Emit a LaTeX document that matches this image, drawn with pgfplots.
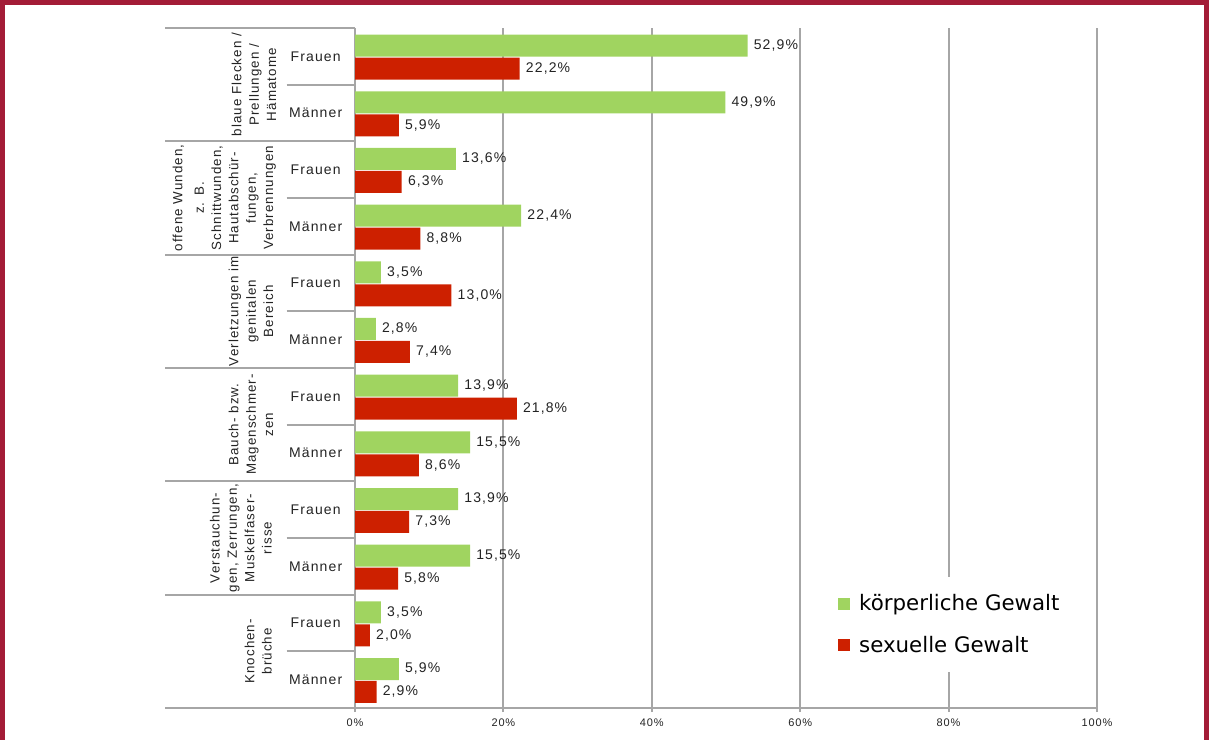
\documentclass[border=0pt]{standalone}
\usepackage{pgfplots}
\pgfplotsset{compat=1.18}
\usepackage{fontspec}
\setmainfont[LetterSpace=8]{Liberation Sans}
\newfontfamily\dejavu{DejaVu Sans}
\definecolor{gruen}{RGB}{160,212,96}
\definecolor{rot}{RGB}{205,32,0}
\definecolor{rahmen}{RGB}{163,28,55}
\definecolor{gitter}{RGB}{166,166,166}
\definecolor{schrift}{RGB}{35,35,35}

\begin{document}
\begin{tikzpicture}
% picture 1209 x 740 px, 1 px = 0.75 pt
\path[use as bounding box] (0,0) rectangle (906.75pt,555pt);
\fill[rahmen] (0,551.25pt) rectangle (906.75pt,555pt);
\fill[rahmen] (0,0) rectangle (3.75pt,555pt);
\fill[rahmen] (903pt,0) rectangle (906.75pt,555pt);

\begin{axis}[
    at={(266.25pt,24pt)}, anchor=south west,
    scale only axis, width=556.5pt, height=510pt,
    xmin=0, xmax=100, ymin=0, ymax=12,
    clip=false,
    axis x line*=bottom, axis y line*=left,
    axis line style={gitter, line width=1.5pt, -},
    xtick={0,20,40,60,80,100}, ytick=\empty,
    xmajorgrids, grid style={gitter, line width=1.5pt},
    tick style={gitter, line width=1.5pt},
    tick align=outside, major tick length=3pt,
    xticklabel={\pgfmathprintnumber[assume math mode=true]{\tick}\%},
    xticklabel style={font=\fontsize{8.25}{10}\selectfont, text=schrift, yshift=-1.5pt},
    xbar, bar width=16.5pt,
    point meta=x,
    nodes near coords={\pgfmathprintnumber[fixed,fixed zerofill,precision=1,use comma,assume math mode=true]{\pgfplotspointmeta}\%},
    nodes near coords style={anchor=west, inner sep=0pt, xshift=4.5pt, font=\fontsize{10.5}{12}\selectfont, text=schrift},
    legend style={at={(axis cs:63.6,2.31)}, anchor=north west, draw=none, fill=white,
        font=\dejavu\fontsize{16}{19}\selectfont, text=black,
        inner xsep=8pt, inner ysep=11pt, row sep=13.5pt, cells={anchor=west},
        /tikz/every odd column/.append style={column sep=5pt}},
    legend image code/.code={\fill[#1, draw=none] (0pt,-4.5pt) rectangle (9pt,4.5pt);},
]
\addplot[fill=gruen, draw=none, bar shift=8pt] coordinates {
    (52.9,11.5) (49.9,10.5) (13.6,9.5) (22.4,8.5) (3.5,7.5) (2.8,6.5)
    (13.9,5.5) (15.5,4.5) (13.9,3.5) (15.5,2.5) (3.5,1.5) (5.9,0.5)};
\addlegendentry{körperliche Gewalt}
\addplot[fill=rot, draw=none, bar shift=-9.2pt] coordinates {
    (22.2,11.5) (5.9,10.5) (6.3,9.5) (8.8,8.5) (13.0,7.5) (7.4,6.5)
    (21.8,5.5) (8.6,4.5) (7.3,3.5) (5.8,2.5) (2.0,1.5) (2.9,0.5)};
\addlegendentry{sexuelle Gewalt}

% separator lines left of the axis
\pgfplotsinvokeforeach{0,2,4,6,8,10,12}{
    \draw[gitter, line width=1.5pt] (axis cs:-25.6,#1) -- (axis cs:0,#1);}
\pgfplotsinvokeforeach{1,3,5,7,9,11}{
    \draw[gitter, line width=1.5pt] (axis cs:-9.2,#1) -- (axis cs:0,#1);}

% Frauen / Männer
\pgfplotsinvokeforeach{1.5,3.5,5.5,7.5,9.5,11.5}{
    \node[font=\fontsize{10.5}{12}\selectfont, text=schrift] at (axis cs:-5.3,#1) {Frauen};}
\pgfplotsinvokeforeach{0.5,2.5,4.5,6.5,8.5,10.5}{
    \node[font=\fontsize{10.5}{12}\selectfont, text=schrift] at (axis cs:-5.3,#1) {Männer};}

% group labels
\tikzset{grp/.style={rotate=90, anchor=south, align=center, inner sep=0pt, text depth=0pt,
    font=\fontsize{10}{13}\selectfont, text=schrift}}
\node[grp] at (axis cs:-10.6,11) {blaue Flecken /\\Prellungen /\\Hämatome};
\node[grp] at (axis cs:-11.0,9) {offene Wunden,\\[3pt]z. B.\\Schnittwunden,\\Hautabschür-\\fungen,\\Verbrennungen};
\node[grp] at (axis cs:-11.0,7) {Verletzungen im\\genitalen\\Bereich};
\node[grp] at (axis cs:-11.0,5) {Bauch- bzw.\\Magenschmer-\\zen};
\node[grp] at (axis cs:-11.2,3) {Verstauchun-\\gen, Zerrungen,\\Muskelfaser-\\risse};
\node[grp] at (axis cs:-11.2,1) {Knochen-\\brüche};
\end{axis}
\end{tikzpicture}
\end{document}
